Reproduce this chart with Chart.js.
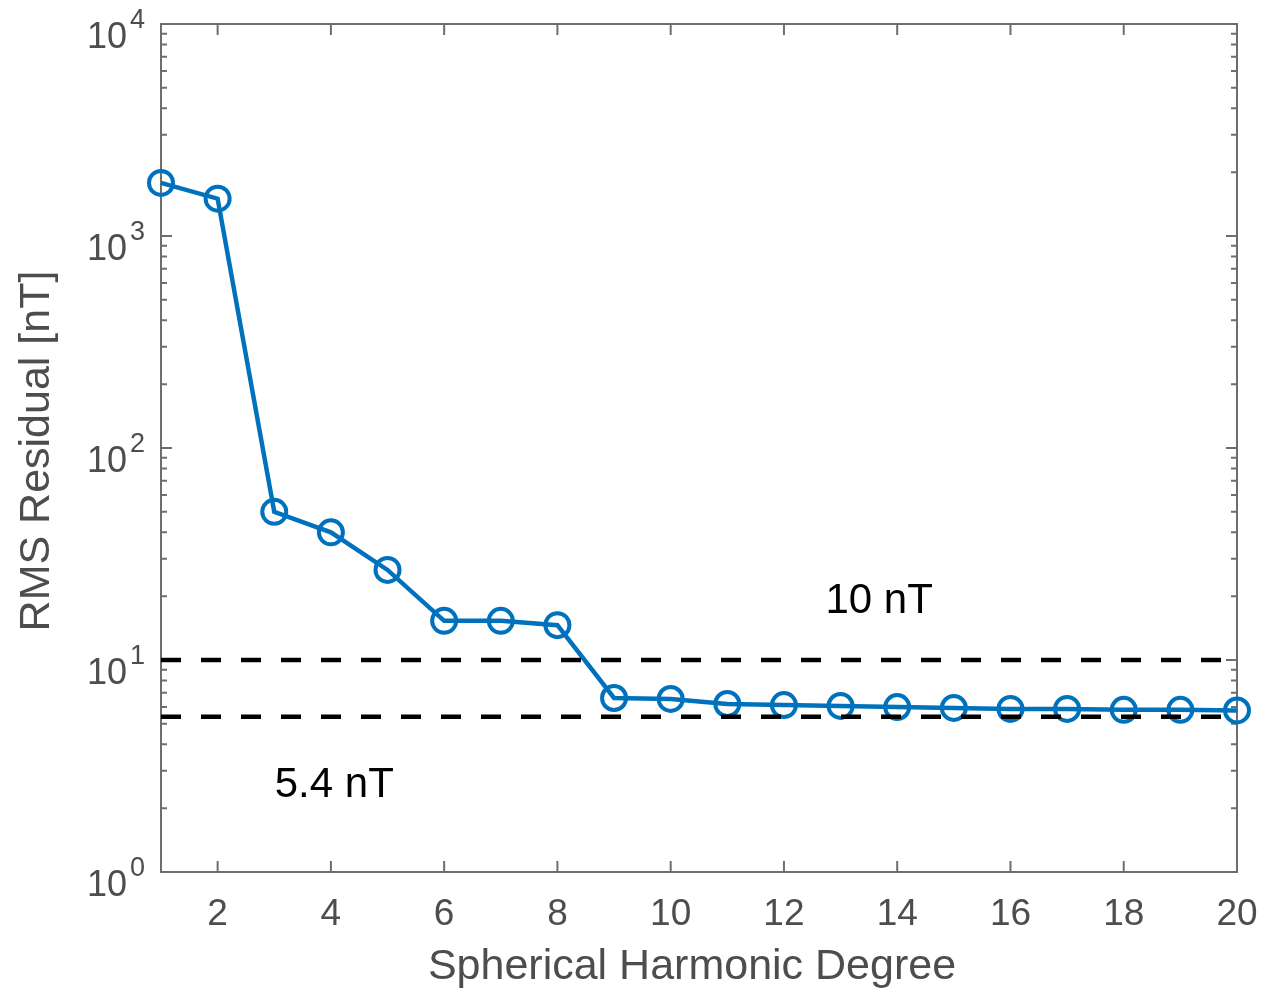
<!DOCTYPE html>
<html>
<head>
<meta charset="utf-8">
<script src="https://cdn.jsdelivr.net/npm/chart.js@4.4.1/dist/chart.umd.min.js"></script>
<style>
  body { margin: 0; background: #fff; }
  #wrap { width: 1270px; height: 993px; position: relative; }
</style>
</head>
<body>
<div id="wrap"><canvas id="myChart"></canvas></div>
<script>
const degrees = [1, 2, 3, 4, 5, 6, 7, 8, 9, 10, 11, 12, 13, 14, 15, 16, 17, 18, 19, 20];
const rmsResidual = [1780, 1500, 50, 40, 26.6, 15.3, 15.3, 14.6, 6.62, 6.55, 6.2, 6.13, 6.07, 6.0, 5.94, 5.88, 5.88, 5.82, 5.82, 5.78];
const thresholds = [10, 5.4];
const thresholdLabels = ["10 nT", "5.4 nT"];
const labelX = [13.68, 4.06];
const labelY = [16.7, 2.26];
const xTicks = [2, 4, 6, 8, 10, 12, 14, 16, 18, 20];
const yTicks = [1, 10, 100, 1000, 10000];

const axisColor = "#6e6e6e";
const textColor = "#4d4d4d";
const font = "'Liberation Sans', Arial, Helvetica, sans-serif";

const axesPlugin = {
  id: "matlabAxes",
  beforeDatasetsDraw(chart) {
    const { ctx, chartArea: a, scales } = chart;
    const x = scales.x;
    const y = scales.y;
    ctx.save();
    ctx.strokeStyle = axisColor;
    ctx.lineWidth = 2;
    ctx.strokeRect(a.left, a.top, a.right - a.left, a.bottom - a.top);

    ctx.beginPath();
    xTicks.forEach((t) => {
      const px = x.getPixelForValue(t);
      ctx.moveTo(px, a.bottom);
      ctx.lineTo(px, a.bottom - 11);
      ctx.moveTo(px, a.top);
      ctx.lineTo(px, a.top + 11);
    });
    yTicks.forEach((t, i) => {
      const py = y.getPixelForValue(t);
      ctx.moveTo(a.left, py);
      ctx.lineTo(a.left + 11, py);
      ctx.moveTo(a.right, py);
      ctx.lineTo(a.right - 11, py);
      if (i < yTicks.length - 1) {
        for (let m = 2; m <= 9; m++) {
          const pm = y.getPixelForValue(t * m);
          ctx.moveTo(a.left, pm);
          ctx.lineTo(a.left + 6, pm);
          ctx.moveTo(a.right, pm);
          ctx.lineTo(a.right - 6, pm);
        }
      }
    });
    ctx.stroke();

    ctx.fillStyle = textColor;
    ctx.font = "37px " + font;
    ctx.textAlign = "center";
    ctx.textBaseline = "alphabetic";
    xTicks.forEach((t) => {
      ctx.fillText(String(t), x.getPixelForValue(t), a.bottom + 53);
    });

    yTicks.forEach((t) => {
      const py = y.getPixelForValue(t);
      ctx.font = "36px " + font;
      ctx.textAlign = "right";
      ctx.fillText("10", a.left - 34, py + 24);
      ctx.font = "27px " + font;
      ctx.textAlign = "left";
      ctx.fillText(String(Math.round(Math.log10(t))), a.left - 31, py + 4);
    });

    ctx.font = "43px " + font;
    ctx.textAlign = "center";
    ctx.fillText("Spherical Harmonic Degree", 692, a.bottom + 107);

    ctx.translate(49, 451);
    ctx.rotate(-Math.PI / 2);
    ctx.fillText("RMS Residual [nT]", 0, 0);
    ctx.restore();
  },
  afterDraw(chart) {
    const { ctx, scales } = chart;
    ctx.save();
    ctx.fillStyle = "#000";
    ctx.font = "42px " + font;
    ctx.textAlign = "center";
    ctx.textBaseline = "alphabetic";
    thresholdLabels.forEach((lbl, i) => {
      ctx.fillText(lbl, scales.x.getPixelForValue(labelX[i]), scales.y.getPixelForValue(labelY[i]));
    });
    ctx.restore();
  },
};

const thresholdSets = thresholds.map((v) => ({
  data: [{ x: degrees[0], y: v }, { x: degrees[degrees.length - 1], y: v }],
  borderColor: "#000",
  borderWidth: 4.5,
  borderDash: [20, 20],
  pointRadius: 0,
  order: 0,
}));

const ctx = document.getElementById("myChart").getContext("2d");

const myChart = new Chart(ctx, {
  type: "line",
  data: {
    datasets: [
      ...thresholdSets,
      {
        data: degrees.map((d, i) => ({ x: d, y: rmsResidual[i] })),
        borderColor: "#0072BD",
        borderWidth: 4.5,
        pointRadius: 12,
        pointBorderWidth: 4,
        pointBorderColor: "#0072BD",
        pointBackgroundColor: "rgba(0,0,0,0)",
        tension: 0,
        clip: false,
        order: 1,
      },
    ],
  },
  options: {
    responsive: true,
    maintainAspectRatio: false,
    animation: false,
    layout: { padding: { left: 161, right: 33, top: 24, bottom: 121 } },
    plugins: { legend: { display: false }, tooltip: { enabled: false } },
    scales: {
      x: { type: "linear", min: 1, max: 20, display: false },
      y: { type: "logarithmic", min: 1, max: 10000, display: false },
    },
  },
  plugins: [axesPlugin],
});
</script>
</body>
</html>
